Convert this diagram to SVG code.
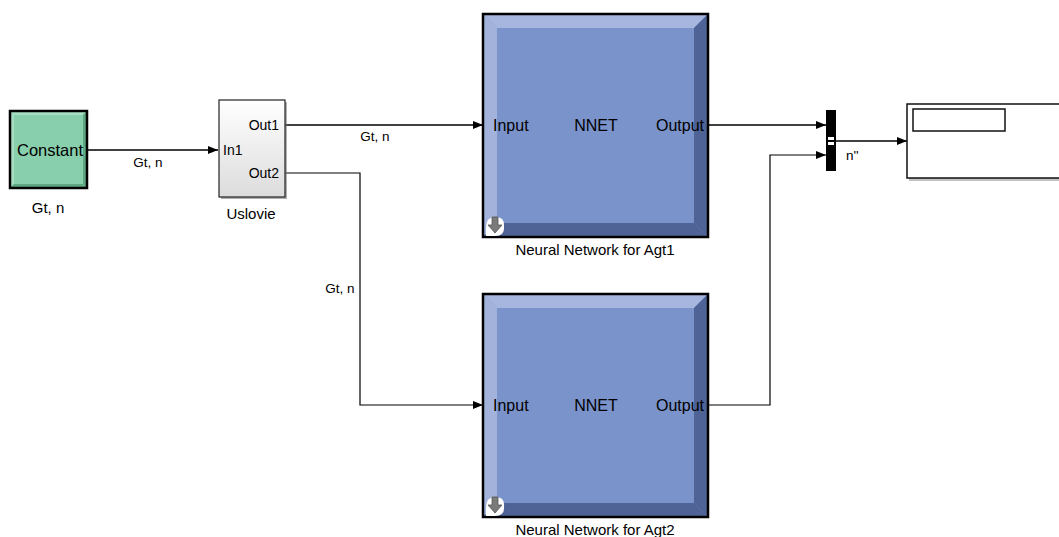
<svg xmlns="http://www.w3.org/2000/svg" width="1059" height="537" viewBox="0 0 1059 537">
<defs>
<marker id="arr" markerWidth="10" markerHeight="8" refX="10" refY="4" orient="auto" markerUnits="userSpaceOnUse">
<path d="M0,0 L10,4 L0,8 Z" fill="#000"/>
</marker>
<linearGradient id="usl" x1="0" y1="0" x2="0" y2="1">
<stop offset="0" stop-color="#ffffff"/>
<stop offset="1" stop-color="#dcdcdc"/>
</linearGradient>
<g id="nnbody">
<rect x="0" y="0" width="225" height="223" fill="#7b93cb"/>
<polygon points="0,0 225,0 211,14 14,14" fill="#a7b6de"/>
<polygon points="0,0 14,14 14,209 0,223" fill="#a2b2db"/>
<polygon points="225,0 225,223 211,209 211,14" fill="#4f6397"/>
<polygon points="0,223 14,209 211,209 225,223" fill="#4f6397"/>
<rect x="0" y="0" width="225" height="223" fill="none" stroke="#000" stroke-width="2.5"/>
<path d="M3,214 Q3,203 12,203 Q22,203 21,212 Q22,222 12,222 L3,222 Z" fill="#ffffff"/>
<path d="M9,203 L15,203 L15,211 L19,211 L12,219 L5,211 L9,211 Z" fill="#7a7a7a" stroke="#555" stroke-width="0.8"/>
</g>
</defs>
<style>
.t{font-family:"Liberation Sans",Arial,sans-serif;fill:#000}
.blk{font-size:16px}
.port{font-size:14px}
.lbl{font-size:13.5px}
.cap{font-size:15px}
.wire{fill:none;stroke:#000;stroke-width:1.5}
.thin{fill:none;stroke:#000;stroke-width:1.2}
</style>
<rect width="1059" height="537" fill="#fff"/>

<g id="connectors">
<path class="wire" d="M87,150 L218,150" marker-end="url(#arr)"/>
<path class="wire" d="M285,125 L483,125" marker-end="url(#arr)"/>
<path class="thin" d="M285,173 L360,173 L360,405 L483,405" marker-end="url(#arr)"/>
<path class="wire" d="M708,125 L826,125" marker-end="url(#arr)"/>
<path class="thin" d="M708,405 L770,405 L770,155 L826,155" marker-end="url(#arr)"/>
<path class="wire" d="M836,141 L907,141" marker-end="url(#arr)"/>
<text class="t lbl" x="148" y="167" text-anchor="middle">Gt, n</text>
<text class="t lbl" x="375" y="141" text-anchor="middle">Gt, n</text>
<text class="t lbl" x="340" y="293" text-anchor="middle">Gt, n</text>
<text class="t lbl" x="846" y="160">n''</text>
</g>

<g id="constant">
<rect x="10" y="111" width="77" height="77" fill="#88cfad"/>
<polygon points="10,111 87,111 83,115 14,115" fill="#a8dfc4"/>
<polygon points="10,111 14,115 14,184 10,188" fill="#a5dcc1"/>
<polygon points="87,111 87,188 83,184 83,115" fill="#5da882"/>
<polygon points="10,188 14,184 83,184 87,188" fill="#5da882"/>
<rect x="10" y="111" width="77" height="77" fill="none" stroke="#000" stroke-width="2.5"/>
<text class="t blk" x="50" y="156" text-anchor="middle" style="font-size:16.5px">Constant</text>
<text class="t cap" x="48" y="213" text-anchor="middle">Gt, n</text>
</g>

<g id="uslovie">
<rect x="221" y="102" width="66" height="97" fill="#7d7d7d" opacity="0.6"/>
<rect x="219" y="100" width="66" height="97" fill="url(#usl)" stroke="#222" stroke-width="1.2"/>
<text class="t port" x="279" y="130" text-anchor="end">Out1</text>
<text class="t port" x="279" y="178" text-anchor="end">Out2</text>
<text class="t port" x="223" y="155">In1</text>
<text class="t cap" x="251" y="219" text-anchor="middle">Uslovie</text>
</g>

<g id="nn1">
<use href="#nnbody" x="483" y="14"/>
<text class="t blk" x="493" y="131">Input</text>
<text class="t blk" x="596" y="131" text-anchor="middle">NNET</text>
<text class="t blk" x="704" y="131" text-anchor="end">Output</text>
<text class="t cap" x="595" y="255" text-anchor="middle">Neural Network for Agt1</text>
</g>

<g id="nn2">
<use href="#nnbody" x="483" y="294"/>
<text class="t blk" x="493" y="411">Input</text>
<text class="t blk" x="596" y="411" text-anchor="middle">NNET</text>
<text class="t blk" x="704" y="411" text-anchor="end">Output</text>
<text class="t cap" x="595" y="535" text-anchor="middle">Neural Network for Agt2</text>
</g>

<g id="mux">
<rect x="826" y="110" width="10" height="61" fill="#000"/>
<rect x="828" y="137" width="6" height="3" fill="#fff"/>
<rect x="828" y="142" width="6" height="3" fill="#fff"/>
</g>

<g id="scope">
<rect x="909" y="106" width="152" height="75" fill="#888" opacity="0.5"/>
<rect x="907" y="104" width="154" height="74" fill="#fff" stroke="#111" stroke-width="1.5"/>
<rect x="913" y="109" width="92" height="22" fill="#fff" stroke="#111" stroke-width="1.5"/>
</g>
</svg>
